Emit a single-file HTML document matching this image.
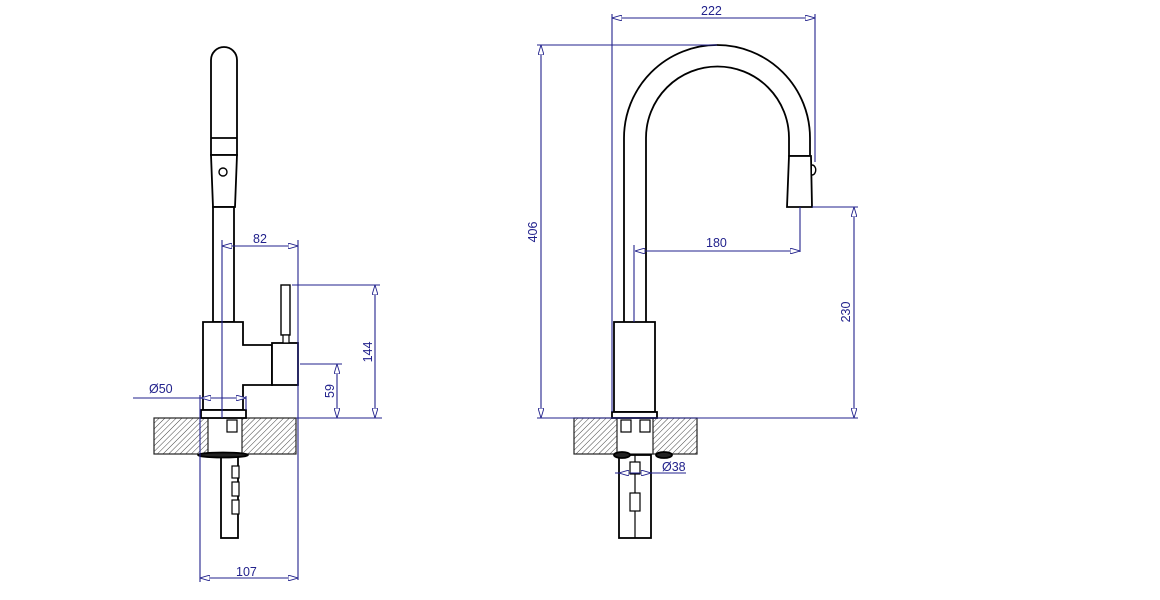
<!DOCTYPE html>
<html><head><meta charset="utf-8"><style>
html,body{margin:0;padding:0;background:#fff}
svg{display:block}
text{font-family:"Liberation Sans",sans-serif;font-size:12.5px;fill:#22228c}
</style></head><body>
<svg width="1160" height="600" viewBox="0 0 1160 600" xmlns="http://www.w3.org/2000/svg">
<defs>
<pattern id="h" width="4" height="4" patternUnits="userSpaceOnUse" patternTransform="rotate(45)">
<line x1="0" y1="0" x2="0" y2="4" stroke="#444" stroke-width="1"/>
</pattern>
<marker id="a" markerWidth="10" markerHeight="6" refX="10" refY="3" orient="auto-start-reverse" markerUnits="userSpaceOnUse">
<path d="M0,0 L10,3 L0,6 Z" fill="#fff" stroke="#22228c" stroke-width="0.9"/>
</marker>
</defs>

<!-- LEFT VIEW -->
<g fill="#fff" stroke="#000" stroke-width="1.8">
<rect x="154" y="418" width="142" height="36" fill="url(#h)" stroke="#222" stroke-width="1.2"/>
<rect x="208" y="418" width="34" height="36" fill="#fff" stroke="#222" stroke-width="1.2"/>
<rect x="221" y="455" width="17" height="83"/>
<rect x="227" y="420" width="10" height="12" stroke-width="1.2"/>
<rect x="232" y="466" width="7" height="12" stroke-width="1.2"/>
<rect x="232" y="482" width="7" height="14" stroke-width="1.2"/>
<rect x="232" y="500" width="7" height="14" stroke-width="1.2"/>
<ellipse cx="223" cy="455" rx="25" ry="2.5" fill="#222"/>
<path d="M211,155 L211,60 A13,13 0 0 1 237,60 L237,155 Z"/>
<line x1="211" y1="138" x2="237" y2="138"/>
<path d="M211,155 L237,155 L235,207 L213,207 Z"/>
<circle cx="223" cy="172" r="4" stroke-width="1.4"/>
<rect x="213" y="207" width="21" height="115"/>
<path d="M203,322 L243,322 L243,345 L272,345 L272,385 L243,385 L243,410 L203,410 Z"/>
<rect x="272" y="343" width="26" height="42"/>
<rect x="281" y="285" width="9" height="50" stroke-width="1.4"/>
<rect x="283" y="335" width="6" height="8" stroke-width="1.2"/>
<rect x="201" y="410" width="45" height="8"/>
</g>
<g stroke="#22228c" stroke-width="1.1" fill="none">
<line x1="222" y1="240" x2="222" y2="418"/>
<line x1="298" y1="240" x2="298" y2="580"/>
<line x1="200" y1="395" x2="200" y2="582"/>
<line x1="296" y1="418" x2="382" y2="418"/>
<line x1="292" y1="285" x2="380" y2="285"/>
<line x1="300" y1="364" x2="342" y2="364"/>
<line x1="222" y1="246" x2="298" y2="246" marker-start="url(#a)" marker-end="url(#a)"/>
<line x1="375" y1="285" x2="375" y2="418" marker-start="url(#a)" marker-end="url(#a)"/>
<line x1="337" y1="364" x2="337" y2="418" marker-start="url(#a)" marker-end="url(#a)"/>
<line x1="133" y1="398" x2="246" y2="398"/>
<line x1="201" y1="398" x2="246" y2="398" marker-start="url(#a)" marker-end="url(#a)"/>
<line x1="246" y1="396" x2="246" y2="410"/>
<line x1="200" y1="578" x2="298" y2="578" marker-start="url(#a)" marker-end="url(#a)"/>
</g>
<text x="253" y="243">82</text>
<text x="149" y="393">Ø50</text>
<text x="236" y="576">107</text>
<text transform="translate(372,352) rotate(-90)" text-anchor="middle">144</text>
<text transform="translate(334,391) rotate(-90)" text-anchor="middle">59</text>

<!-- RIGHT VIEW -->
<g fill="#fff" stroke="#000" stroke-width="1.8">
<rect x="574" y="418" width="123" height="36" fill="url(#h)" stroke="#222" stroke-width="1.2"/>
<rect x="617" y="418" width="36" height="36" fill="#fff" stroke="#222" stroke-width="1.2"/>
<rect x="619" y="455" width="32" height="83"/>
<line x1="635" y1="455" x2="635" y2="538" stroke-width="1.2"/>
<rect x="621" y="420" width="10" height="12" stroke-width="1.2"/>
<rect x="640" y="420" width="10" height="12" stroke-width="1.2"/>
<rect x="630" y="462" width="10" height="12" stroke-width="1.2"/>
<rect x="630" y="493" width="10" height="18" stroke-width="1.2"/>
<ellipse cx="622" cy="455" rx="8" ry="3" fill="#222"/>
<ellipse cx="664" cy="455" rx="8" ry="3" fill="#222"/>
<path d="M624,323 L624,138 A93,93 0 0 1 810,138 L810,156 L789,156 L789,138 A71.5,71.5 0 0 0 646,138 L646,323" fill="none"/>
<path d="M789,156 L811,156 L812,207 L787,207 Z"/>
<path d="M812,165 A3,4 0 0 1 812,175" fill="#fff" stroke-width="1.4"/>
<rect x="614" y="322" width="41" height="90"/>
<rect x="612" y="412" width="45" height="6"/>
</g>
<g stroke="#22228c" stroke-width="1.1" fill="none">
<line x1="612" y1="14" x2="612" y2="412"/>
<line x1="815" y1="14" x2="815" y2="162"/>
<line x1="612" y1="18" x2="815" y2="18" marker-start="url(#a)" marker-end="url(#a)"/>
<line x1="537" y1="45" x2="717" y2="45"/>
<line x1="537" y1="418" x2="858" y2="418"/>
<line x1="541" y1="45" x2="541" y2="418" marker-start="url(#a)" marker-end="url(#a)"/>
<line x1="634" y1="245" x2="634" y2="322"/>
<line x1="800" y1="207" x2="800" y2="252"/>
<line x1="635" y1="251" x2="800" y2="251" marker-start="url(#a)" marker-end="url(#a)"/>
<line x1="812" y1="207" x2="858" y2="207"/>
<line x1="854" y1="207" x2="854" y2="418" marker-start="url(#a)" marker-end="url(#a)"/>
<line x1="615" y1="473" x2="686" y2="473"/>
<line x1="619" y1="473" x2="651" y2="473" marker-start="url(#a)" marker-end="url(#a)"/>
</g>
<text x="701" y="15">222</text>
<text x="706" y="247">180</text>
<text x="662" y="471">Ø38</text>
<text transform="translate(537,232) rotate(-90)" text-anchor="middle">406</text>
<text transform="translate(850,312) rotate(-90)" text-anchor="middle">230</text>
</svg>
</body></html>
